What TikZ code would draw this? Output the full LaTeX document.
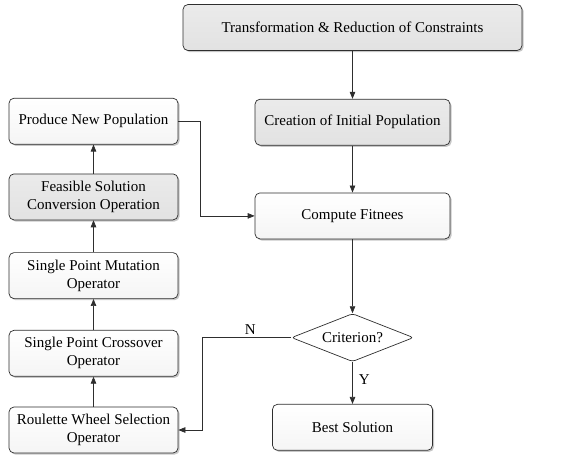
\documentclass[tikz,border=0pt]{standalone}
\usepackage{fontspec}
\setmainfont{Liberation Serif}
\definecolor{boxgray}{HTML}{E2E2E2}
\definecolor{boxline}{HTML}{2E2E2E}
\usetikzlibrary{shapes.geometric, arrows.meta, positioning, shadows}

\begin{document}
\begin{tikzpicture}[
        x=1pt, y=-1pt,
        node distance=30pt and 30pt,
        font=\fontsize{15}{18}\selectfont,
        stepbox/.style={
            rectangle,
            rounded corners=5pt,
            draw=boxline,
            line width=0.7pt,
            top color=white,
            bottom color=black!4,
            align=center,
            minimum width=169pt,
            minimum height=46pt,
            inner sep=2pt,
            drop shadow={shadow xshift=1.6pt, shadow yshift=-1.6pt, fill=black!22, opacity=1}
        },
        graybox/.style={
            stepbox,
            top color=boxgray!70,
            bottom color=boxgray
        },
        decision/.style={
            diamond,
            aspect=2.6,
            rounded corners=3pt,
            draw=boxline,
            line width=0.7pt,
            fill=white,
            minimum width=122pt,
            minimum height=48pt,
            inner sep=1pt
        },
        flow/.style={
            -{Triangle[length=7pt, width=5.5pt]},
            line width=0.7pt,
            draw=boxline
        }
    ]
    \useasboundingbox (0,0) rectangle (570,455);

    % Main column
    \node[graybox, minimum width=339pt] (trans) at (352.5,27.5) {Transformation \& Reduction of Constraints};
    \node[graybox, minimum width=195pt, below=48pt of trans] (init) {Creation of Initial Population};
    \node[stepbox, minimum width=195pt, below=47pt of init] (fit) {Compute Fitnees};
    \node[decision, below=74pt of fit] (crit) {Criterion?};
    \node[stepbox, minimum width=160pt, below=42pt of crit] (best) {Best Solution};

    % Operator column
    \node[stepbox] (rws) at (93.5,430) {Roulette Wheel Selection\\Operator};
    \node[stepbox, above=30pt of rws] (spc) {Single Point Crossover\\Operator};
    \node[stepbox, above=31pt of spc] (spm) {Single Point Mutation\\Operator};
    \node[graybox, above=32pt of spm] (fsc) {Feasible Solution\\Conversion Operation};
    \node[stepbox, above=29pt of fsc] (pnp) {Produce New Population};

    % Connectors
    \draw[flow] (trans) -- (init);
    \draw[flow] (init) -- (fit);
    \draw[flow] (fit) -- (crit);
    \draw[flow] (crit) -- node[right, pos=0.42, inner sep=6pt] {Y} (best);
    \draw[flow] (crit.west) -- node[above, pos=0.46, inner sep=3pt] {N} ++(-89,0) |- (rws.east);
    \draw[flow] (rws) -- (spc);
    \draw[flow] (spc) -- (spm);
    \draw[flow] (spm) -- (fsc);
    \draw[flow] (fsc) -- (pnp);
    \draw[flow] (pnp.east) -- ++(22,0) |- (fit.west);

\end{tikzpicture}
\end{document}
